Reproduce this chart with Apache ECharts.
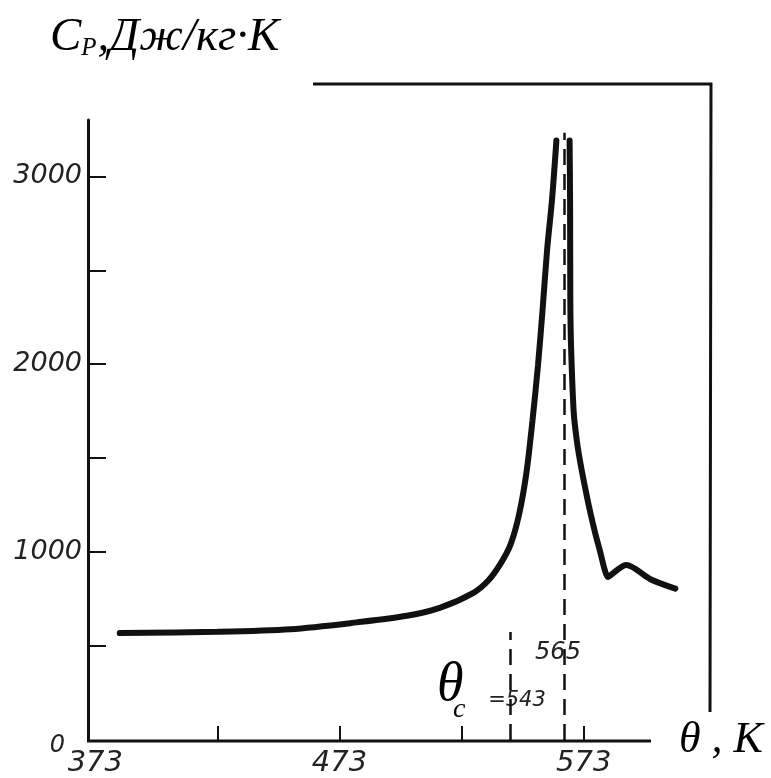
<!DOCTYPE html>
<html>
<head>
<meta charset="utf-8">
<script src="https://cdn.jsdelivr.net/npm/echarts@6/dist/echarts.min.js"></script>
<style>
  html, body { margin: 0; padding: 0; background: #fff; }
  #main { width: 771px; height: 778px; }
</style>
</head>
<body>
<div id="main"></div>
<script>
// temperature, K  (null Cp = break between the two prongs of the peak)
var temps = [383, 423, 453, 480, 500.6, 514.3, 528, 534, 539, 543, 546.5, 549.5, 552, 554.3, 556.2, 558, 560, 561.8,
    564.5,
    567.2, 567.4, 567.5, 567.8, 568.9, 570.2, 571.6, 573.7, 575.7, 577.8, 579.8, 581.6, 582.9, 585.5, 590.4, 600.3, 610.5];
// heat capacity, J/(kg K)
var cp = [569, 576, 590, 626, 661, 705, 785, 850, 940, 1040, 1200, 1420, 1700, 2000, 2300, 2610, 2876, 3191,
    null,
    3191, 2876, 2344, 2096, 1742, 1590, 1476, 1334, 1210, 1095, 998, 905, 868, 893, 932, 856, 806];

var xLabels = [373, 473, 573];
var xTicks = [423, 473, 523, 573];
var yLabels = [0, 1000, 2000, 3000];
var yTicks = [500, 1000, 1500, 2000, 2500, 3000];

// dashed markers: [temperature, top of line]
var markers = [[565, 3232], [543, 575]];

var digitFont = {
    fontFamily: 'DejaVu Sans',
    fontStyle: 'italic',
    color: '#222'
};

var chart = echarts.init(document.getElementById('main'));

var option = {
    backgroundColor: '#fff',
    animation: false,
    grid: { left: 88, right: 92, top: 120, bottom: 37 },
    xAxis: {
        type: 'value',
        min: 370,
        max: 612,
        name: 'θ , К',
        nameLocation: 'end',
        nameGap: 0,
        nameTextStyle: {
            fontFamily: 'Liberation Serif',
            fontStyle: 'italic',
            fontSize: 44,
            color: '#000',
            verticalAlign: 'middle',
            padding: [10, 0, 0, 0]
        },
        axisLine: { show: false },
        axisTick: {
            inside: true,
            length: 14,
            customValues: xTicks,
            lineStyle: { color: '#111', width: 2 }
        },
        axisLabel: Object.assign({
            customValues: xLabels,
            fontSize: 29,
            margin: 9
        }, digitFont),
        splitLine: { show: false }
    },
    yAxis: {
        type: 'value',
        min: 0,
        max: 3300,
        axisLine: { lineStyle: { color: '#111', width: 3 } },
        axisTick: {
            inside: true,
            length: 18,
            customValues: yTicks,
            lineStyle: { color: '#111', width: 2 }
        },
        axisLabel: Object.assign({
            customValues: yLabels,
            fontSize: 27,
            margin: 6,
            formatter: function (v) {
                return v === 0 ? '{z|0}' : String(v);
            },
            rich: {
                z: Object.assign({ fontSize: 24, padding: [11, 17, 0, 0] }, digitFont)
            }
        }, digitFont),
        splitLine: { show: false }
    },
    series: [{
        type: 'line',
        data: temps.map(function (t, i) { return [t, cp[i]]; }),
        showSymbol: false,
        smooth: 0.3,
        connectNulls: false,
        lineStyle: { color: '#111', width: 6, cap: 'round' },
        markLine: {
            silent: true,
            symbol: 'none',
            label: { show: false },
            lineStyle: { color: '#111', width: 2.5, type: [16, 9] },
            data: markers.map(function (m) {
                return [{ coord: [m[0], 0] }, { coord: [m[0], m[1]] }];
            })
        }
    }],
    graphic: [
        {
            // x axis line, stops short of the axis name
            type: 'line',
            shape: { x1: 87, y1: 741, x2: 651, y2: 741 },
            style: { stroke: '#111', lineWidth: 3 }
        },
        {
            type: 'polyline',
            shape: { points: [[313, 84], [711, 84], [710, 712]] },
            style: { stroke: '#111', lineWidth: 3, fill: null }
        },
        {
            type: 'text',
            left: 50,
            top: 14,
            style: {
                text: '{c|C}{p|P}{c|,Дж/кг·К}',
                rich: {
                    c: { fontFamily: 'Liberation Serif', fontStyle: 'italic', fontSize: 47, fill: '#000' },
                    p: { fontFamily: 'Liberation Serif', fontStyle: 'italic', fontSize: 25, fill: '#000', verticalAlign: 'bottom', padding: [0, 1, 0, 0] }
                }
            }
        },
        {
            type: 'text',
            left: 437,
            top: 659,
            style: { text: 'θ', font: 'italic 54px "Liberation Serif"', fill: '#000' }
        },
        {
            type: 'text',
            left: 453,
            top: 696,
            style: { text: 'c', font: 'italic 28px "Liberation Serif"', fill: '#000' }
        },
        {
            type: 'text',
            x: 558,
            y: 653,
            style: {
                text: '565', font: 'italic 24px "DejaVu Sans"', fill: '#222',
                align: 'center', verticalAlign: 'middle',
                backgroundColor: '#fff', padding: [3, 1]
            }
        },
        {
            type: 'text',
            x: 517,
            y: 701,
            style: {
                text: '=543', font: 'italic 21px "DejaVu Sans"', fill: '#222',
                align: 'center', verticalAlign: 'middle',
                backgroundColor: '#fff', padding: [3, 1]
            }
        }
    ]
};

chart.setOption(option);
</script>
</body>
</html>
